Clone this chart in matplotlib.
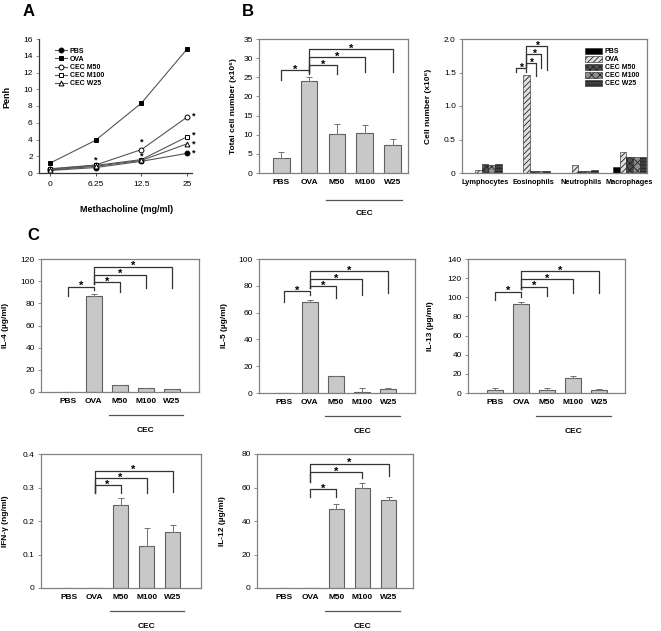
import matplotlib.pyplot as plt
import numpy as np

plt.rcParams['font.family'] = ['Liberation Sans', 'DejaVu Sans']
plt.rcParams['hatch.linewidth'] = 0.6

# ---- data ----
doses = ['0', '6.25', '12.5', '25']
penh_pbs = [0.3, 0.65, 1.4, 2.35]
penh_ova = [1.15, 3.9, 8.35, 14.85]
penh_m50 = [0.5, 0.95, 2.8, 6.7]
penh_m100 = [0.45, 0.9, 1.6, 4.35]
penh_w25 = [0.35, 0.8, 1.5, 3.5]

groups = ['PBS', 'OVA', 'M50', 'M100', 'W25']
total_cells = [3.8, 24.0, 10.2, 10.4, 7.3]
total_err = [1.7, 1.0, 2.5, 2.2, 1.6]

cell_types = ['Lymphocytes', 'Eosinophils', 'Neutrophils', 'Macrophages']
pbs_cells = [0.0, 0.0, 0.0, 0.09]
ova_cells = [0.04, 1.47, 0.12, 0.32]
m50_cells = [0.14, 0.03, 0.035, 0.24]
m100_cells = [0.12, 0.025, 0.035, 0.24]
w25_cells = [0.13, 0.025, 0.04, 0.24]

il4 = [0, 87, 6, 3.5, 2.5]
il4_err = [0, 1.5, 0.6, 0.5, 0.5]
il5 = [0.3, 68, 12.5, 1, 3]
il5_err = [0, 1.5, 0.5, 3, 0.5]
il13 = [3.5, 93.5, 3, 15.5, 3.5]
il13_err = [1.5, 2, 2, 2, 1]
ifn = [0, 0, 0.248, 0.124, 0.166]
ifn_err = [0, 0, 0.022, 0.054, 0.021]
il12 = [0, 0, 47, 60, 52.8]
il12_err = [0, 0, 3, 2.8, 1.6]

# significance brackets: (x1, x2, top, left leg end, right leg end)
brk_total = [(0, 1, 26.8, 24.4, 25.8), (1, 2, 28.1, 26.5, 25.9),
             (1, 3, 30.2, 26.5, 26.5), (1, 4, 32.4, 26.5, 26.5)]
brk_eos = [(0.64, 0.85, 1.565, 1.51, 1.51), (0.85, 1.06, 1.64, 1.58, 1.45),
           (0.85, 1.17, 1.775, 1.58, 1.56), (0.85, 1.29, 1.89, 1.58, 1.54)]
brk_il4 = [(0, 1, 95, 86.7, 92), (1, 2, 98.8, 97.5, 90.6),
           (1, 3, 106, 97.5, 93.6), (1, 4, 113, 97.5, 93.6)]
brk_il5 = [(0, 1, 75.9, 68, 73), (1, 2, 79.6, 78, 71),
           (1, 3, 85, 78, 73.4), (1, 4, 90.8, 78, 75)]
brk_il13 = [(0, 1, 106, 97, 100), (1, 2, 111, 109, 101),
            (1, 3, 119, 109, 104.5), (1, 4, 127, 109, 105)]
brk_ifn = [(1, 2, 0.308, 0.283, 0.283), (1, 3, 0.328, 0.283, 0.283),
           (1, 4, 0.35, 0.288, 0.288)]
brk_il12 = [(1, 2, 59, 54.6, 54.6), (1, 3, 69, 63, 65.6), (1, 4, 74.2, 63, 66.6)]

# star marks in panel A: (dose index, y)
stars_a = [(1, 1.6), (2, 3.7), (2, 2.05), (3.13, 6.8), (3.13, 4.55),
           (3.13, 3.45), (3.13, 2.4)]

FW, FH = 661, 631
fig = plt.figure(figsize=(FW / 100, FH / 100), dpi=100)
frame = '#808080'


def px_axes(l, r, t, b):
    return fig.add_axes([l / FW, 1 - b / FH, (r - l) / FW, (b - t) / FH])


def style(ax, box=True):
    for s in ax.spines.values():
        s.set_color(frame)
        s.set_linewidth(0.9)
    if not box:
        ax.spines['top'].set_visible(False)
        ax.spines['right'].set_visible(False)
    ax.tick_params(axis='y', direction='out', length=2.5, width=0.6,
                   labelsize=6, pad=2, color=frame)
    ax.tick_params(axis='x', length=0, labelsize=6, pad=4)


def brackets(ax, items, fs=8):
    for x1, x2, top, l1, l2 in items:
        ax.plot([x1, x1, x2, x2], [l1, top, top, l2], color='#333333', lw=0.9)
        ax.annotate('*', ((x1 + x2) / 2, top), xytext=(0, 0.3),
                    textcoords='offset points', ha='center', va='center',
                    fontsize=fs, fontweight='bold')


def cec(ax):
    tr = ax.get_xaxis_transform()
    ax.plot([1.58, 4.45], [-0.175, -0.175], transform=tr, color='#555555',
            lw=0.9, clip_on=False)
    ax.text(3.0, -0.29, 'CEC', transform=tr, ha='center', va='center',
            fontsize=6, fontweight='bold')


def bar_panel(ax, vals, errs, ylim, yticks, ylabel, lab_x, xlim, tick_labels=None):
    x = np.arange(len(groups))
    ax.bar(x, vals, width=0.6, color='#c8c8c8', edgecolor='#606060', lw=0.8)
    v = np.array(vals)
    e = np.array(errs)
    m = e > 0
    ax.errorbar(x[m], v[m], yerr=[np.zeros(m.sum()), e[m]], fmt='none',
                ecolor='#707070', elinewidth=0.7, capsize=2, capthick=0.7)
    ax.set_xlim(*xlim)
    ax.set_ylim(*ylim)
    ax.set_yticks(yticks)
    if tick_labels is not None:
        ax.set_yticklabels(tick_labels)
    ax.set_xticks(x)
    ax.set_xticklabels(groups, fontweight='bold')
    ax.set_ylabel(ylabel, fontsize=6, fontweight='bold')
    ax.yaxis.set_label_coords(lab_x, 0.5)
    style(ax)
    cec(ax)


# ---- Panel A ----
axA = px_axes(39, 192, 39, 173)
xa = np.arange(len(doses))
line_kw = dict(color='#555555', lw=0.8, markersize=3.5, markeredgewidth=0.7,
               markeredgecolor='black')
axA.plot(xa, penh_pbs, marker='o', markerfacecolor='black', label='PBS', **line_kw)
axA.plot(xa, penh_ova, marker='s', markerfacecolor='black', label='OVA', **line_kw)
axA.plot(xa, penh_m50, marker='o', markerfacecolor='white', label='CEC M50', **line_kw)
axA.plot(xa, penh_m100, marker='s', markerfacecolor='white', label='CEC M100', **line_kw)
axA.plot(xa, penh_w25, marker='^', markerfacecolor='white', label='CEC W25', **line_kw)
for sx, sy in stars_a:
    axA.text(sx, sy, '*', ha='center', va='center', fontsize=6.5, fontweight='bold')
axA.set_xlim(-0.23, 3.1)
axA.set_ylim(0, 16)
axA.set_yticks(range(0, 17, 2))
axA.set_xticks(xa)
axA.set_xticklabels(doses)
style(axA, box=False)
for s in ['left', 'bottom']:
    axA.spines[s].set_color('#333333')
axA.tick_params(axis='x', length=2.5, width=0.6, color='#333333', pad=3)
axA.set_ylabel('Penh', fontsize=6.5, fontweight='bold')
axA.yaxis.set_label_coords(-0.18, 0.57)
axA.set_xlabel('Methacholine (mg/ml)', fontsize=6.5, fontweight='bold')
axA.xaxis.set_label_coords(0.575, -0.24)
axA.legend(loc='upper left', bbox_to_anchor=(0.07, 0.97), frameon=False,
           prop={'size': 5, 'weight': 'bold'}, handlelength=1.8,
           labelspacing=0.15, borderpad=0.2, handletextpad=0.4)

# ---- Panel B left ----
axB1 = px_axes(259, 408, 39, 173)
bar_panel(axB1, total_cells, total_err, (0, 35), range(0, 36, 5),
          'Total cell number (x10⁶)', -0.15, (-0.8, 4.55))
axB1.get_lines()[-1].set_data([1.62, 4.35], [-0.2, -0.2])
axB1.texts[-1].set_position((3.0, -0.3))
brackets(axB1, brk_total)

# ---- Panel B right ----
axB2 = px_axes(462, 647, 39, 173)
xc = np.arange(len(cell_types))
bw = 0.138
series = [pbs_cells, ova_cells, m50_cells, m100_cells, w25_cells]
labels = ['PBS', 'OVA', 'CEC M50', 'CEC M100', 'CEC W25']
faces = ['black', '#e0e0e0', '#505050', '#909090', '#404040']
hatches = [None, '//////', 'xxxxx', 'xxxx', '-----']
for i, vals in enumerate(series):
    axB2.bar(xc + (i - 2) * bw, vals, width=bw, color=faces[i], hatch=hatches[i],
             edgecolor='#222222', lw=0.4, label=labels[i])
axB2.set_xlim(-0.48, 3.36)
axB2.set_ylim(0, 2.0)
axB2.set_yticks([0, 0.5, 1.0, 1.5, 2.0])
axB2.set_yticklabels(['0', '0.5', '1.0', '1.5', '2.0'])
axB2.set_xticks(xc)
axB2.set_xticklabels(cell_types, fontweight='bold')
style(axB2)
axB2.tick_params(axis='x', labelsize=5.3)
axB2.set_ylabel('Cell number (x10⁶)', fontsize=6, fontweight='bold')
axB2.yaxis.set_label_coords(-0.16, 0.5)
axB2.legend(loc='upper left', bbox_to_anchor=(0.64, 0.97), frameon=False,
            prop={'size': 5, 'weight': 'bold'}, handlelength=2.4,
            handleheight=0.9, labelspacing=0.1, borderpad=0.2, handletextpad=0.4)
brackets(axB2, brk_eos, fs=7.5)

# ---- Panel C ----
axC1 = px_axes(41, 199, 259, 392)
bar_panel(axC1, il4, il4_err, (0, 120), range(0, 121, 20), 'IL-4 (µg/ml)',
          -0.2, (-1.03, 5.05))
brackets(axC1, brk_il4)

axC2 = px_axes(259, 415, 259, 393)
bar_panel(axC2, il5, il5_err, (0, 100), range(0, 101, 20), 'IL-5 (µg/ml)',
          -0.2, (-0.95, 5.03))
brackets(axC2, brk_il5)

axC3 = px_axes(468, 625, 259, 393)
bar_panel(axC3, il13, il13_err, (0, 140), range(0, 141, 20), 'IL-13 (µg/ml)',
          -0.215, (-1.03, 4.99))
brackets(axC3, brk_il13)

axC4 = px_axes(41, 201, 454, 588)
bar_panel(axC4, ifn, ifn_err, (0, 0.4), [0, 0.1, 0.2, 0.3, 0.4], 'IFN-γ (ng/ml)',
          -0.2, (-1.06, 5.09), ['0', '0.1', '0.2', '0.3', '0.4'])
brackets(axC4, brk_ifn)

axC5 = px_axes(257, 413, 454, 588)
bar_panel(axC5, il12, il12_err, (0, 80), range(0, 81, 20), 'IL-12 (µg/ml)',
          -0.2, (-1.05, 4.94))
brackets(axC5, brk_il12)

# panel letters
fig.text(29 / FW, 1 - 12 / FH, 'A', fontsize=12, fontweight='bold', ha='center', va='center')
fig.text(248 / FW, 1 - 12 / FH, 'B', fontsize=12, fontweight='bold', ha='center', va='center')
fig.text(33 / FW, 1 - 235 / FH, 'C', fontsize=12, fontweight='bold', ha='center', va='center')

fig.savefig('out.png', dpi=100)
